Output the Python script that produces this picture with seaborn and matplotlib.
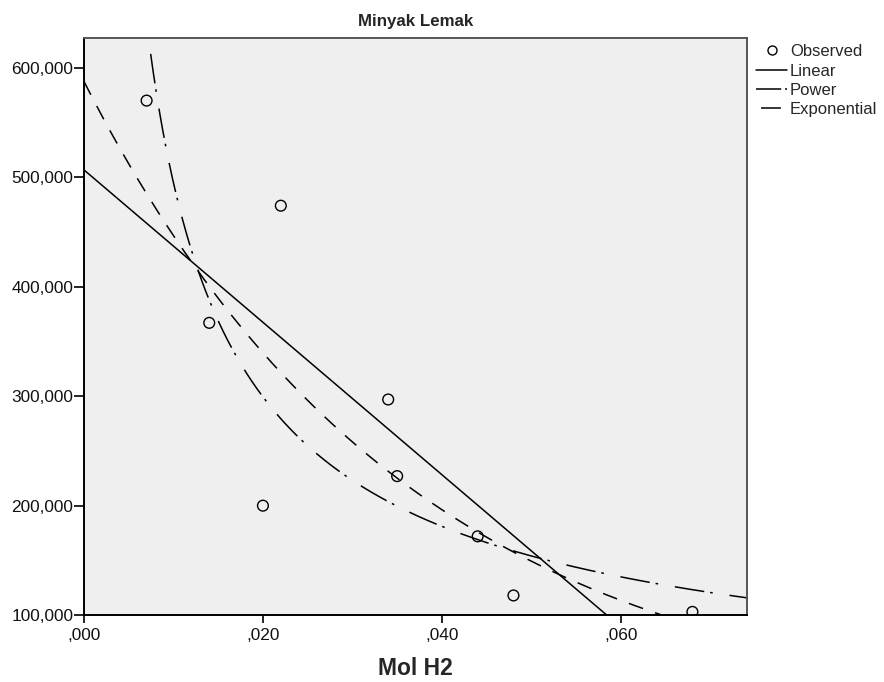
import numpy as np
import pandas as pd
import matplotlib
matplotlib.use("Agg")
import matplotlib.pyplot as plt
from matplotlib.ticker import FuncFormatter
from matplotlib.lines import Line2D
import seaborn as sns

# Observed data
mol_h2 = [0.007, 0.014, 0.020, 0.022, 0.034, 0.035, 0.044, 0.048, 0.068]
minyak = [570.0, 367.0, 200.0, 474.0, 297.0, 227.0, 172.0, 118.0, 103.0]

x_ticks = [0.000, 0.020, 0.040, 0.060]
y_ticks = [100, 200, 300, 400, 500, 600]

sns.set_theme(style="white")
plt.rcParams["font.family"] = ["Liberation Sans", "DejaVu Sans"]

x = np.array(mol_h2)
y = np.array(minyak)

# Curve estimation: linear, power (log-log) and exponential (log-linear)
b_lin, a_lin = np.polyfit(x, y, 1)
b_pow, ln_a_pow = np.polyfit(np.log(x), np.log(y), 1)
b_exp, ln_a_exp = np.polyfit(x, np.log(y), 1)

grid = np.linspace(0.0, 0.075, 800)
grid_pow = np.linspace(0.004, 0.075, 800)
fits = pd.DataFrame({
    "x": np.concatenate([grid, grid_pow, grid]),
    "y": np.concatenate([
        a_lin + b_lin * grid,
        np.exp(ln_a_pow) * grid_pow ** b_pow,
        np.exp(ln_a_exp) * np.exp(b_exp * grid),
    ]),
    "model": ["Linear"] * len(grid) + ["Power"] * len(grid_pow) + ["Exponential"] * len(grid),
})

LW = 1.1
POWER_DASH = [19.5, 3.9, 1.7, 11.1]
EXP_DASH = [9.8, 8.3]

fig = plt.figure(figsize=(8.84, 6.82), dpi=100)
ax = fig.add_axes([0.095, 0.098, 0.750, 0.846])
ax.set_facecolor("#efefef")

dash_map = {"Linear": None, "Power": POWER_DASH, "Exponential": EXP_DASH}
for name in ["Linear", "Power", "Exponential"]:
    sub = fits[fits["model"] == name]
    sns.lineplot(data=sub, x="x", y="y", ax=ax, color="black", lw=LW,
                 estimator=None, sort=False)
    if dash_map[name] is not None:
        ax.lines[-1].set_dashes(dash_map[name])

sns.scatterplot(x=mol_h2, y=minyak, ax=ax, marker="o", s=60,
                facecolor="none", edgecolor="black", linewidth=1.0, zorder=5)

ax.set_xlim(0, 0.0741)
ax.set_ylim(100, 627)
ax.set_xticks(x_ticks)
ax.set_yticks(y_ticks)
ax.xaxis.set_major_formatter(FuncFormatter(lambda v, p: f"{v:.3f}".replace(".", ",").lstrip("0")))
ax.yaxis.set_major_formatter(FuncFormatter(lambda v, p: f"{v:.3f}".replace(".", ",")))
ax.tick_params(axis="both", direction="out", width=1.2, color="black",
               labelsize=12.4, bottom=True, left=True, labelcolor="#111111")
ax.tick_params(axis="x", length=5.5, pad=4)
ax.tick_params(axis="y", length=7.5, pad=0.3)

for side in ["left", "bottom"]:
    ax.spines[side].set_color("black")
    ax.spines[side].set_linewidth(1.4)
for side in ["top", "right"]:
    ax.spines[side].set_color("#555555")
    ax.spines[side].set_linewidth(1.4)

ax.set_xlabel("Mol H2", fontsize=16.5, fontweight="bold", labelpad=10)
ax.set_ylabel("")
ax.set_title("Minyak Lemak", fontsize=12.2, fontweight="bold", pad=9)

handles = [
    Line2D([], [], marker="o", ls="none", markerfacecolor="none", markeredgecolor="black", markersize=6.5),
    Line2D([], [], color="black", lw=LW),
    Line2D([], [], color="black", lw=LW, linestyle=(0, (16.5, 2.5, 1.7, 30))),
    Line2D([], [], color="black", lw=LW, linestyle=(54.7, (13, 45))),
]
fig.legend(handles, ["Observed", "Linear", "Power", "Exponential"],
           loc="upper left", bbox_to_anchor=(0.855, 0.935), frameon=False,
           fontsize=12, handlelength=1.9, handletextpad=0.15, labelspacing=0.26,
           borderaxespad=0, borderpad=0)

fig.savefig("out.png", dpi=100)
